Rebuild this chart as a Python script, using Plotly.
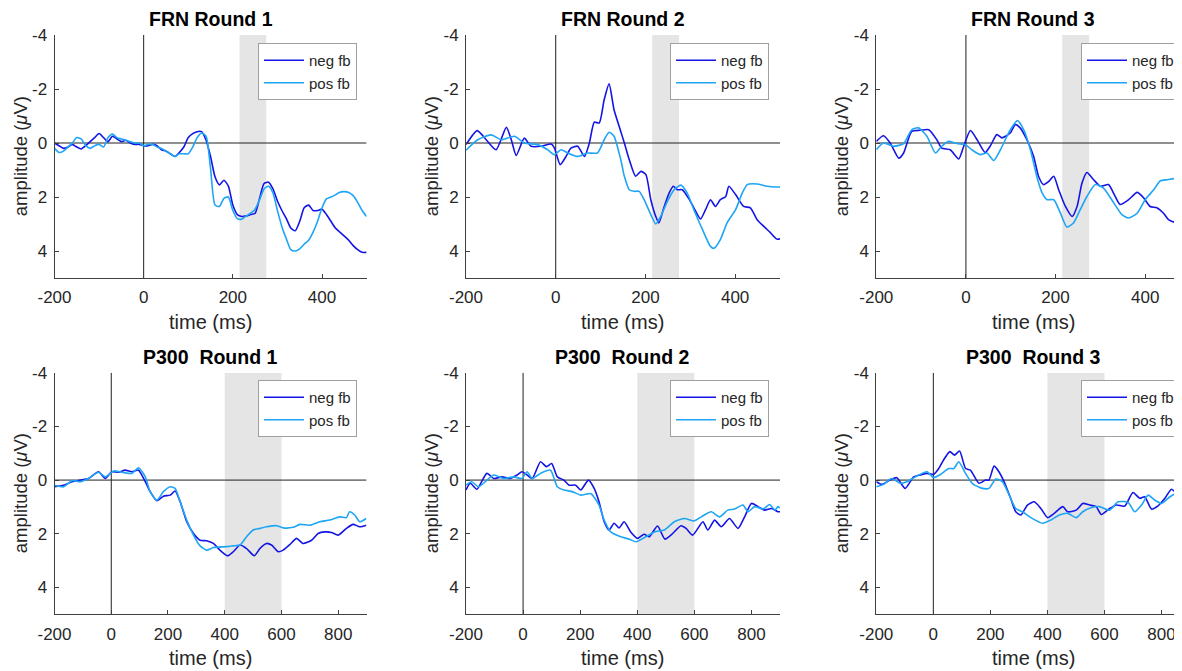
import plotly.graph_objects as go

W, H = 1182, 671

# ---------------- data (time in ms, amplitude in µV) ----------------
frn1_t = list(range(-200, 501, 10))
frn1_neg = [0.0, 0.1, 0.2, 0.15, 0.05, 0.15, 0.22, 0.1, -0.05, -0.2,
            -0.35, -0.2, -0.05, -0.25, -0.15, -0.05, -0.1, 0.0, 0.05, 0.05,
            0.1, 0.1, 0.05, 0.1, 0.25, 0.3, 0.4, 0.5, 0.35, 0.15,
            -0.2, -0.35, -0.42, -0.42, -0.1, 0.5, 1.25, 1.55, 1.38, 1.6,
            2.3, 2.65, 2.72, 2.7, 2.65, 2.6, 2.05, 1.5, 1.45, 1.7,
            2.15, 2.5, 2.8, 3.15, 3.25, 2.9, 2.4, 2.3, 2.5, 2.5,
            2.45, 2.65, 2.9, 3.15, 3.3, 3.45, 3.6, 3.8, 3.95, 4.05,
            4.05]
frn1_pos = [0.2, 0.35, 0.3, 0.15, 0.0, -0.2, -0.15, 0.1, 0.2, 0.1,
            0.05, 0.15, -0.2, -0.33, -0.2, -0.15, -0.1, -0.05, 0.0, 0.0,
            0.1, 0.05, 0.05, 0.15, 0.2, 0.3, 0.4, 0.5, 0.4, 0.4,
            0.4, 0.15, -0.2, -0.37, -0.25, 0.95, 2.3, 2.35, 2.05, 2.0,
            2.5, 2.8, 2.82, 2.7, 2.6, 2.45, 2.1, 1.7, 1.6, 1.85,
            2.5, 3.1, 3.55, 3.95, 4.0, 3.92, 3.75, 3.6, 3.3, 2.9,
            2.4, 2.07, 2.0, 1.92, 1.82, 1.8, 1.83, 1.95, 2.2, 2.5,
            2.72]

frn2_neg_t = [-200, -175, -155, -133, -110, -99, -88, -70, -55, -33, -10, -3, 10, 23, 34, 49, 64, 75, 86, 97,
              108, 119, 130, 145, 153, 164, 178, 190, 201, 212, 223, 230, 241, 253, 262, 271, 282, 297, 308,
              323, 334, 345, 356, 367, 379, 386, 401, 419, 434, 449, 464, 479, 493, 500]
frn2_neg = [0.06, -0.46, -0.12, 0.25, -0.58, -0.12, 0.46, -0.18, 0.12, 0.12, 0.04, 0.18, 0.8, 0.5, 0.19, 0.12,
            0.5, 0.0, -0.77, -0.74, -1.6, -2.19, -1.23, -0.43, 0.0, 0.62, 1.23, 1.05, 1.17, 2.1, 2.72, 2.96,
            2.4, 1.85, 1.6, 1.73, 1.73, 2.07, 2.4, 2.81, 2.47, 2.1, 2.35, 2.1, 1.98, 1.6, 1.91, 2.35, 2.4,
            2.84, 3.09, 3.33, 3.56, 3.55]
frn2_pos_t = [-200, -174, -144, -121, -92, -70, -40, -18, -3, 12, 27, 49, 71, 93, 108, 119, 130, 145, 153, 164,
              175, 186, 197, 212, 223, 234, 249, 264, 279, 293, 308, 327, 345, 353, 367, 382, 401, 416, 427,
              449, 471, 493, 500]
frn2_pos = [0.27, -0.12, -0.3, -0.12, -0.25, 0.0, 0.06, 0.25, 0.43, 0.25, 0.37, 0.5, 0.37, 0.37, -0.12, -0.4,
            -0.25, 0.62, 1.23, 1.73, 1.79, 1.79, 2.1, 2.65, 3.0, 2.72, 2.16, 1.73, 1.56, 1.85, 2.47, 3.2, 3.83,
            3.9, 3.58, 2.96, 2.47, 1.85, 1.54, 1.52, 1.6, 1.63, 1.63]

frn3_neg_t = [-200, -184, -169, -150, -139, -121, -102, -83, -65, -54, -35, -16, -5, 10, 25, 43, 54, 69, 80, 99,
              110, 121, 136, 151, 162, 173, 185, 196, 207, 222, 237, 248, 259, 270, 285, 300, 318, 333, 344,
              363, 382, 397, 411, 426, 441, 452, 467, 478, 500]
frn3_neg = [-0.06, -0.27, 0.0, 0.56, 0.37, -0.43, -0.47, -0.49, -0.12, 0.19, 0.25, 0.59, 0.12, -0.46, -0.12,
            0.35, 0.12, -0.31, -0.19, -0.37, -0.68, -0.56, -0.12, 0.49, 1.23, 1.54, 1.42, 1.23, 1.73, 2.35,
            2.72, 2.35, 1.48, 1.09, 1.36, 1.6, 1.54, 1.98, 2.28, 2.1, 1.83, 2.04, 2.35, 2.4, 2.6, 2.84, 2.94,
            2.94, 3.0]
frn3_pos_t = [-200, -184, -161, -139, -121, -106, -87, -68, -54, -39, -20, -1, 13, 32, 47, 62, 77, 99, 115, 129,
              144, 158, 170, 181, 196, 211, 225, 240, 255, 270, 289, 307, 330, 348, 363, 382, 400, 419, 434,
              449, 467, 483, 500]
frn3_pos = [0.25, 0.0, 0.12, 0.02, -0.49, -0.56, -0.25, 0.37, 0.12, -0.06, 0.02, 0.06, 0.25, 0.43, 0.37, 0.65,
            0.25, -0.49, -0.83, -0.49, 0.25, 1.23, 1.85, 2.1, 2.1, 2.6, 3.11, 2.96, 2.47, 1.98, 1.54, 1.67,
            2.22, 2.65, 2.78, 2.6, 2.1, 1.73, 1.4, 1.36, 1.32, 1.46, 1.45]

p3_1_neg_t = [-200, -168, -138, -109, -80, -45, -21, 2, 26, 49, 73, 96, 120, 137, 161, 184, 208, 225, 243, 266,
              290, 313, 336, 360, 383, 410, 430, 454, 477, 504, 524, 547, 565, 589, 606, 630, 653, 676, 706,
              729, 753, 776, 800, 829, 852, 876, 899]
p3_1_neg = [0.25, 0.19, 0.06, 0.0, -0.06, -0.31, -0.06, -0.31, -0.29, -0.37, -0.31, -0.37, 0.06, 0.43, 0.77,
            0.6, 0.56, 0.41, 0.81, 1.55, 1.99, 2.24, 2.26, 2.36, 2.61, 2.82, 2.67, 2.42, 2.55, 2.82, 2.55, 2.36,
            2.42, 2.67, 2.61, 2.4, 2.17, 2.36, 2.24, 1.99, 1.93, 1.95, 2.05, 1.8, 1.65, 1.74, 1.68]
p3_1_pos_t = [-200, -168, -138, -109, -80, -45, -21, 8, 38, 73, 96, 120, 137, 161, 184, 208, 225, 243, 266, 290,
              313, 336, 360, 407, 430, 454, 477, 500, 524, 547, 583, 606, 641, 665, 700, 735, 770, 805, 829,
              840, 858, 876, 899]
p3_1_pos = [0.19, 0.25, 0.02, 0.06, -0.06, -0.29, -0.12, -0.34, -0.29, -0.25, -0.46, -0.12, 0.43, 0.75, 0.43,
            0.25, 0.31, 0.81, 1.49, 2.05, 2.45, 2.61, 2.51, 2.48, 2.45, 2.42, 2.11, 1.86, 1.8, 1.74, 1.7, 1.78,
            1.76, 1.65, 1.68, 1.55, 1.49, 1.37, 1.4, 1.18, 1.3, 1.55, 1.43]

p3_2_neg_t = [-200, -185, -162, -127, -103, -74, -45, -21, -4, 14, 32, 61, 82, 100, 120, 143, 161, 184, 202, 229,
              249, 266, 284, 301, 319, 336, 354, 377, 401, 424, 442, 471, 497, 524, 553, 571, 594, 630, 647,
              671, 694, 723, 753, 776, 800, 823, 846, 870, 893, 900]
p3_2_neg = [0.37, 0.12, 0.34, -0.25, -0.06, -0.12, -0.06, -0.19, -0.31, -0.19, -0.06, -0.68, -0.5, -0.62, -0.12,
            0.0, 0.19, 0.19, 0.37, 0.0, 0.31, 0.81, 1.55, 1.86, 1.61, 1.78, 1.55, 1.93, 2.17, 2.02, 2.11, 1.71,
            2.2, 1.99, 1.7, 1.8, 2.05, 1.55, 1.86, 1.49, 1.74, 1.43, 1.8, 1.37, 0.87, 0.99, 1.12, 1.06, 1.18,
            1.18]
p3_2_pos_t = [-200, -180, -156, -103, -68, -33, -4, 14, 32, 61, 96, 120, 143, 172, 202, 219, 237, 266, 284, 307,
              342, 372, 395, 424, 460, 495, 530, 565, 600, 624, 659, 688, 717, 741, 770, 788, 811, 840, 864,
              882, 893, 900]
p3_2_pos = [0.19, 0.06, 0.25, -0.19, -0.06, -0.12, -0.06, -0.31, -0.06, -0.25, -0.37, 0.25, 0.37, 0.43, 0.56,
            0.53, 0.5, 0.93, 1.49, 1.93, 2.11, 2.2, 2.3, 2.15, 1.93, 1.86, 1.55, 1.43, 1.52, 1.37, 1.18, 1.37,
            1.12, 1.08, 0.93, 1.18, 0.99, 1.08, 0.91, 1.12, 0.99, 1.05]

p3_3_neg_t = [-200, -181, -152, -128, -99, -69, -46, -22, 1, 19, 36, 58, 74, 92, 113, 130, 160, 183, 195, 213,
              230, 248, 271, 289, 307, 330, 354, 377, 401, 424, 454, 471, 501, 524, 548, 571, 589, 618, 642,
              671, 700, 724, 741, 765, 788, 812, 835, 859, 878, 900]
p3_3_neg = [0.06, 0.16, 0.0, -0.09, 0.31, -0.12, -0.19, -0.25, -0.21, -0.43, -0.75, -1.06, -0.93, -1.08, -0.43,
            -0.37, 0.12, 0.0, 0.0, -0.52, -0.31, 0.06, 0.68, 1.18, 1.3, 0.93, 0.81, 1.06, 1.4, 1.24, 0.99, 1.18,
            1.12, 0.87, 0.93, 0.99, 1.28, 1.06, 0.93, 0.97, 0.46, 0.68, 0.62, 1.08, 0.96, 0.68, 0.34, 0.56,
            0.62, 0.6]
p3_3_pos_t = [-200, -175, -146, -116, -93, -63, -22, 1, 25, 54, 72, 89, 113, 136, 166, 195, 219, 242, 266, 289,
              313, 342, 383, 412, 442, 471, 501, 524, 553, 583, 618, 648, 683, 706, 730, 753, 777, 800, 830,
              853, 878, 900]
p3_3_pos = [0.25, 0.16, -0.06, 0.12, 0.06, -0.12, -0.31, -0.09, -0.21, -0.43, -0.43, -0.68, -0.25, 0.12, 0.29,
            0.31, -0.04, 0.06, 0.56, 1.06, 1.18, 1.4, 1.61, 1.49, 1.3, 1.24, 1.4, 1.18, 1.03, 0.99, 1.12, 0.81,
            0.83, 1.18, 0.93, 0.56, 0.75, 0.87, 0.62, 0.5, 0.68, 0.65]

titles = ["FRN Round 1", "FRN Round 2", "FRN Round 3",
          "P300\u00a0 Round 1", "P300\u00a0 Round 2", "P300\u00a0 Round 3"]
series_names = ["neg fb", "pos fb"]
y_ticks = [-4, -2, 0, 2, 4]
y_ticktext = ["-4", "-2", "0", "2", "4"]
frn_xticks = [-200, 0, 200, 400]
p300_xticks = [-200, 0, 200, 400, 600, 800]
frn_window = [215, 275]
p300_window = [400, 600]

panels = [
    (frn1_t, frn1_neg, frn1_t, frn1_pos),
    (frn2_neg_t, frn2_neg, frn2_pos_t, frn2_pos),
    (frn3_neg_t, frn3_neg, frn3_pos_t, frn3_pos),
    (p3_1_neg_t, p3_1_neg, p3_1_pos_t, p3_1_pos),
    (p3_2_neg_t, p3_2_neg, p3_2_pos_t, p3_2_pos),
    (p3_3_neg_t, p3_3_neg, p3_3_pos_t, p3_3_pos),
]

# ---------------- layout geometry (pixels in figure space; page body adds 8px) ----------------
OFF = 8
col_px = [(54.5 - OFF, 366.6 - OFF), (466.0 - OFF, 780.0 - OFF), (876.3 - OFF, 1190.0 - OFF)]
row_px = [(35.0 - OFF, 278.0 - OFF), (372.7 - OFF, 614.3 - OFF)]
x_full = [(-200, 500), (-200, 900)]
title_py = [19 - OFF, 356.7 - OFF]
xlabel_py = [322 - OFF, 658.3 - OFF]
ylabel_px = [20.7 - OFF, 431.7 - OFF, 841.7 - OFF]
legend_right_px = [357 - OFF, 769 - OFF, 1180 - OFF]
legend_top_px = [43 - OFF, 380 - OFF]

NEG_C = "#1414e6"
POS_C = "#1ea5f5"
AX_C = "#404040"
TXT_C = "#262626"
FONT = "Liberation Sans, Arial, Helvetica, sans-serif"

fig = go.Figure()
layout = dict(width=W, height=H, autosize=False,
              margin=dict(l=0, r=0, t=0, b=0, pad=0, autoexpand=False),
              paper_bgcolor="white", plot_bgcolor="white",
              font=dict(family=FONT, color=TXT_C), showlegend=True)
shapes = []
annotations = []

for i, (tn, vn, tp, vp) in enumerate(panels):
    r, c = divmod(i, 3)
    k = i + 1
    xa = "x" if k == 1 else f"x{k}"
    ya = "y" if k == 1 else f"y{k}"
    lg = "legend" if k == 1 else f"legend{k}"
    left, right = col_px[c]
    right = min(right, W)
    top, bot = row_px[r]
    x0, x1 = x_full[r]

    fig.add_trace(go.Scatter(x=tn, y=vn, mode="lines", name=series_names[0],
                             line=dict(color=NEG_C, width=1.6, shape="spline", smoothing=0.6),
                             xaxis=xa, yaxis=ya, legend=lg, hoverinfo="skip"))
    fig.add_trace(go.Scatter(x=tp, y=vp, mode="lines", name=series_names[1],
                             line=dict(color=POS_C, width=1.6, shape="spline", smoothing=0.6),
                             xaxis=xa, yaxis=ya, legend=lg, hoverinfo="skip"))

    xkey = "xaxis" if k == 1 else f"xaxis{k}"
    ykey = "yaxis" if k == 1 else f"yaxis{k}"
    xt = frn_xticks if r == 0 else p300_xticks
    layout[xkey] = dict(domain=[left / W, right / W], anchor=ya,
                        range=[x0, x1], autorange=False, automargin=False,
                        tickvals=xt, ticktext=[str(v) for v in xt],
                        ticks="inside", ticklen=4, tickcolor=AX_C, tickwidth=1,
                        showline=True, linecolor=AX_C, linewidth=1, mirror=False,
                        showgrid=False, zeroline=False, ticklabelstandoff=4,
                        tickfont=dict(size=17, color=TXT_C, family=FONT), fixedrange=True)
    layout[ykey] = dict(domain=[1 - bot / H, 1 - top / H], anchor=xa,
                        range=[5, -4], autorange=False, automargin=False,
                        tickvals=y_ticks, ticktext=y_ticktext,
                        ticks="inside", ticklen=4, tickcolor=AX_C, tickwidth=1,
                        showline=True, linecolor=AX_C, linewidth=1,
                        showgrid=False, zeroline=False, ticklabelstandoff=3,
                        tickfont=dict(size=17, color=TXT_C, family=FONT), fixedrange=True)

    win = frn_window if r == 0 else p300_window
    shapes.append(dict(type="rect", xref=xa, yref=ya, x0=win[0], x1=win[1], y0=-4, y1=5,
                       fillcolor="#e5e5e5", line=dict(width=0), layer="below"))
    shapes.append(dict(type="line", xref=xa, yref=ya, x0=x0, x1=x1, y0=0, y1=0,
                       line=dict(color="#202020", width=1), layer="below"))
    shapes.append(dict(type="line", xref=xa, yref=ya, x0=0, x1=0, y0=-4, y1=5,
                       line=dict(color="#202020", width=1), layer="below"))

    cx = (left + col_px[c][1]) / 2 / W
    annotations.append(dict(text=f"<b>{titles[i]}</b>", x=cx, y=1 - title_py[r] / H, xref="paper", yref="paper",
                            xanchor="center", yanchor="middle", showarrow=False,
                            font=dict(size=19.5, color="black", family=FONT)))
    annotations.append(dict(text="time (ms)", x=cx, y=1 - xlabel_py[r] / H, xref="paper", yref="paper",
                            xanchor="center", yanchor="middle", showarrow=False,
                            font=dict(size=20, color=TXT_C, family=FONT)))
    annotations.append(dict(text="amplitude (<i>\u03bc</i>V)", x=ylabel_px[c] / W, y=1 - (top + bot) / 2 / H,
                            xref="paper", yref="paper", xanchor="center", yanchor="middle",
                            textangle=-90, showarrow=False,
                            font=dict(size=18.5, color=TXT_C, family=FONT)))

    layout[lg] = dict(x=legend_right_px[c] / W, y=1 - legend_top_px[r] / H, xanchor="right", yanchor="top",
                      bgcolor="white", bordercolor="#a0a0a0", borderwidth=1,
                      font=dict(size=15, color=TXT_C, family=FONT), tracegroupgap=0,
                      itemwidth=40, itemclick=False, itemdoubleclick=False)

layout["shapes"] = shapes
layout["annotations"] = annotations
fig.update_layout(**layout)
fig.write_html("out.html", config={"displayModeBar": False})
